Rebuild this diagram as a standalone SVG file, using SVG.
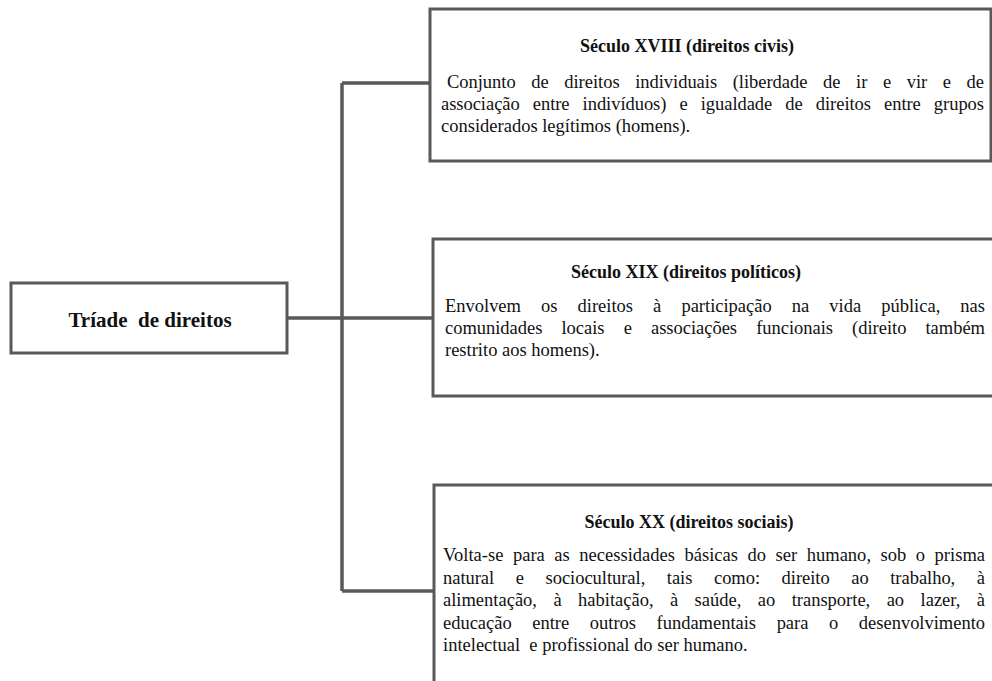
<svg xmlns="http://www.w3.org/2000/svg" width="992" height="681" viewBox="0 0 992 681">
<style>
.box{fill:#fff;stroke:#595959;stroke-width:3}
.conn{fill:none;stroke:#595959;stroke-width:3.5}
text{font-family:"Liberation Serif","Times New Roman",serif;fill:#111}
.title{font-size:18px;font-weight:bold;text-anchor:middle}
.main{font-size:21px;font-weight:bold;text-anchor:middle}
.body{font-size:18.5px}
</style>
<rect width="992" height="681" fill="#fff"/>
<g id="connectors">
<path class="conn" d="M342 83 V591"/>
<path class="conn" d="M342 83 H430"/>
<path class="conn" d="M287 318 H433"/>
<path class="conn" d="M342 591 H434"/>
</g>
<g id="node-triade">
<rect class="box" x="11" y="283" width="276" height="70"/>
<text class="main" x="150" y="327" xml:space="preserve">Tríade  de direitos</text>
</g>
<g id="node-seculo-xviii">
<rect class="box" x="430" y="9" width="561" height="152"/>
<text class="title" x="687" y="52">Século XVIII (direitos civis)</text>
<text class="body" x="447" y="88" word-spacing="11" textLength="537" lengthAdjust="spacing">Conjunto de direitos individuais (liberdade de ir e vir e de</text>
<text class="body" x="441" y="110" word-spacing="8.5" textLength="543" lengthAdjust="spacing">associação entre indivíduos) e igualdade de direitos entre grupos</text>
<text class="body" x="441" y="132">considerados legítimos (homens).</text>
</g>
<g id="node-seculo-xix">
<rect class="box" x="433" y="239" width="570" height="157"/>
<text class="title" x="686" y="278">Século XIX (direitos políticos)</text>
<text class="body" x="445" y="312" word-spacing="15.5" textLength="540" lengthAdjust="spacing">Envolvem os direitos à participação na vida pública, nas</text>
<text class="body" x="445" y="334" word-spacing="14.5" textLength="540" lengthAdjust="spacing">comunidades locais e associações funcionais (direito também</text>
<text class="body" x="445" y="356">restrito aos homens).</text>
</g>
<g id="node-seculo-xx">
<rect class="box" x="434" y="485" width="570" height="210"/>
<text class="title" x="689" y="528">Século XX (direitos sociais)</text>
<text class="body" x="443" y="561" word-spacing="4.9" textLength="542" lengthAdjust="spacing">Volta-se para as necessidades básicas do ser humano, sob o prisma</text>
<text class="body" x="443" y="584" word-spacing="17" textLength="542" lengthAdjust="spacing">natural e sociocultural, tais como: direito ao trabalho, à</text>
<text class="body" x="443" y="606" word-spacing="11.8" textLength="542" lengthAdjust="spacing">alimentação, à habitação, à saúde, ao transporte, ao lazer, à</text>
<text class="body" x="443" y="629" word-spacing="16" textLength="542" lengthAdjust="spacing">educação entre outros fundamentais para o desenvolvimento</text>
<text class="body" x="443" y="651" xml:space="preserve">intelectual  e profissional do ser humano.</text>
</g>
</svg>
